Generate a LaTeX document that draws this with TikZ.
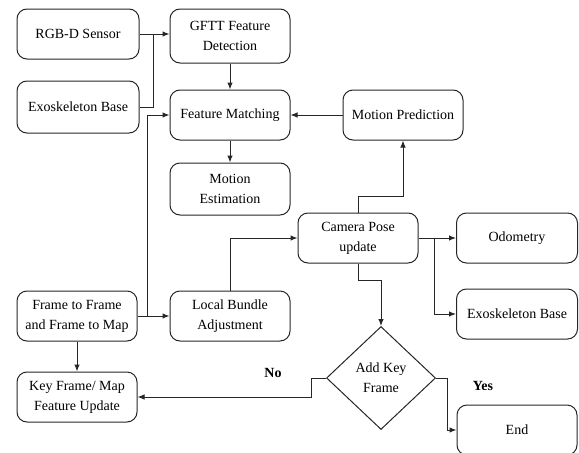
\documentclass[tikz,border=0pt]{standalone}
\usepackage{fontspec}
\setmainfont{Liberation Serif}
\usetikzlibrary{arrows.meta,shapes.geometric}
\begin{document}
\begin{tikzpicture}[x=1pt,y=-1pt,
 box/.style={draw=black!85,rounded corners=10pt,line width=1pt,minimum width=120pt,minimum height=50pt,align=center,font=\fontsize{14}{20}\selectfont,inner sep=0pt},
 dec/.style={draw=black!85,diamond,line width=1pt,minimum width=109pt,minimum height=103pt,align=center,font=\fontsize{14}{20}\selectfont,inner sep=0pt},
 arr/.style={draw=black!85,-{Latex[length=7pt,width=5.5pt]},line width=1pt},
 ln/.style={draw=black!85,line width=1pt},
 lbl/.style={font=\fontsize{14}{16}\selectfont\bfseries}]
\clip (0,0) rectangle (579,453);
\node[box,minimum width=122pt] (rgbd) at (78,34) {RGB-D Sensor};
\node[box,minimum height=54pt] (gftt) at (230,36) {GFTT Feature\\Detection};
\node[box,minimum width=122pt,minimum height=52pt] (exo1) at (78,107) {Exoskeleton Base};
\node[box] (fm) at (230,115) {Feature Matching};
\node[box,minimum height=52pt] (me) at (230,189) {Motion\\Estimation};
\node[box] (mp) at (403,115) {Motion Prediction};
\node[box] (cam) at (358,238) {Camera Pose\\update};
\node[box,minimum width=121pt] (odo) at (517,238) {Odometry};
\node[box,minimum width=121pt] (exo2) at (517,314) {Exoskeleton Base};
\node[box] (f2f) at (77,316) {Frame to Frame\\and Frame to Map};
\node[box] (lba) at (230,316) {Local Bundle\\Adjustment};
\node[box] (kf) at (77,397) {Key Frame/ Map\\Feature Update};
\node[dec] (dia) at (381,378) {Add Key\\Frame};
\node[box] (end) at (517,430) {End};
\node[lbl] (no) at (273,373) {No};
\node[lbl] (yes) at (483,386) {Yes};
\coordinate (j1) at (153,34);
\coordinate (j2) at (147,316);
\coordinate (j3) at (434,238);
\draw[arr] (rgbd.east) -- (rgbd.east -| gftt.west);
\draw[ln] (exo1.east) -| (j1);
\draw[arr] (gftt) -- (fm);
\draw[arr] (fm) -- (me);
\draw[arr] (mp) -- (fm);
\draw[arr] (cam.north) -- ++(0,-16) -| (mp.south);
\draw[arr] (f2f.east) -- (lba.west);
\draw[arr] (j2) |- (fm.west);
\draw[arr] (f2f) -- (kf);
\draw[arr] (lba.north) |- (cam.west);
\draw[arr] (cam.east) -- (odo.west);
\draw[arr] (j3) |- (exo2.west);
\draw[arr] (cam.south) -- ++(0,17) -| (dia.north);
\draw[arr] (dia.west) -- ++(-15,0) |- (kf.east);
\draw[arr] (dia.east) -- ++(11,0) |- (end.west);
\end{tikzpicture}
\end{document}
